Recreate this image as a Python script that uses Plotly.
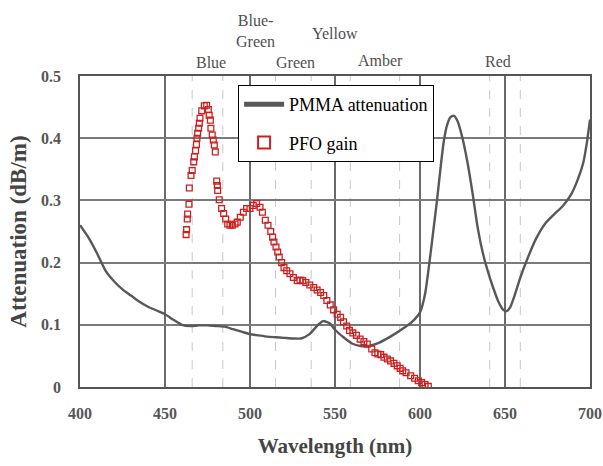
import plotly.graph_objects as go

# PMMA attenuation curve (wavelength nm, dB/m)
pmma_wl = [400, 405, 410, 415, 420, 425, 430, 435, 440, 445, 450, 455, 460, 465, 470, 475,
           480, 485, 490, 495, 500, 505, 510, 515, 520, 525, 530, 535, 540, 543, 547, 550,
           555, 560, 565, 570, 575, 580, 585, 590, 595, 600, 603, 606, 608, 610, 612, 614,
           616, 618, 620, 622, 625, 628, 631, 634, 637, 640, 643, 646, 649, 651, 653, 656,
           659, 663, 668, 674, 679, 684, 689, 693, 696, 698, 700]
pmma_att = [0.260, 0.240, 0.215, 0.187, 0.170, 0.157, 0.147, 0.137, 0.129, 0.123, 0.117, 0.108,
            0.100, 0.098, 0.099, 0.099, 0.098, 0.097, 0.093, 0.089, 0.085, 0.083, 0.081, 0.080,
            0.079, 0.078, 0.078, 0.085, 0.100, 0.106, 0.102, 0.092, 0.080, 0.070, 0.066, 0.066,
            0.070, 0.077, 0.085, 0.094, 0.104, 0.120, 0.150, 0.210, 0.255, 0.300, 0.350, 0.395,
            0.422, 0.434, 0.436, 0.428, 0.400, 0.360, 0.310, 0.255, 0.215, 0.185, 0.160, 0.138,
            0.124, 0.122, 0.128, 0.150, 0.176, 0.205, 0.237, 0.264, 0.278, 0.291, 0.310, 0.335,
            0.360, 0.390, 0.430]

# PFO gain points (wavelength nm, value)
pfo_wl = [462.4, 462.7, 463.1, 463.3, 464.1, 464.3, 465.3, 466.0, 466.9, 467.3, 468.0, 468.5,
          468.8, 469.2, 469.8, 470.2, 470.6, 471.6, 473.1, 474.5, 475.5, 476.0, 476.7, 477.0,
          477.8, 478.4, 479.0, 479.6, 480.4, 480.8, 481.0, 481.9, 483.3, 484.5, 485.7, 486.9,
          488.2, 489.6, 491.2, 492.5, 494.3, 496.1, 498.0, 500.0, 501.9, 503.9, 505.9, 507.3,
          509.0, 510.6, 512.2, 513.3, 514.1, 515.3, 516.3, 517.2, 518.6, 520.0, 521.6, 523.5,
          525.5, 527.8, 529.4, 531.0, 532.9, 535.2, 537.5, 539.5, 541.5, 543.4, 545.2, 547.2,
          549.2, 551.3, 553.3, 555.0, 556.9, 558.5, 560.5, 562.6, 564.8, 567.0, 569.0, 571.6,
          573.5, 575.2, 576.9, 578.8, 580.8, 582.7, 584.7, 586.6, 588.3, 589.8, 591.8, 594.5,
          596.8, 599.0, 601.0, 603.0, 604.9]
pfo_gain = [0.245, 0.253, 0.270, 0.278, 0.294, 0.320, 0.340, 0.348, 0.362, 0.370, 0.380, 0.390,
            0.400, 0.408, 0.416, 0.424, 0.432, 0.444, 0.452, 0.453, 0.446, 0.437, 0.429, 0.416,
            0.405, 0.397, 0.389, 0.378, 0.331, 0.324, 0.316, 0.301, 0.287, 0.279, 0.270, 0.262,
            0.260, 0.260, 0.262, 0.265, 0.273, 0.281, 0.287, 0.287, 0.292, 0.295, 0.289, 0.281,
            0.268, 0.260, 0.250, 0.241, 0.233, 0.225, 0.217, 0.209, 0.200, 0.192, 0.187, 0.182,
            0.176, 0.171, 0.172, 0.171, 0.168, 0.164, 0.160, 0.156, 0.152, 0.147, 0.139, 0.132,
            0.124, 0.117, 0.112, 0.105, 0.098, 0.091, 0.087, 0.083, 0.077, 0.073, 0.069, 0.061,
            0.055, 0.053, 0.052, 0.048, 0.045, 0.042, 0.038, 0.034, 0.030, 0.026, 0.023, 0.018,
            0.014, 0.010, 0.007, 0.004, 0.001]

# Axis ticks
x_ticks = [400, 450, 500, 550, 600, 650, 700]
y_ticks = [0, 0.1, 0.2, 0.3, 0.4, 0.5]
y_tick_labels = ["0", "0.1", "0.2", "0.3", "0.4", "0.5"]

# Colour band labels above the plot
band_labels = ["Blue", "Blue-<br>Green", "Green", "Yellow", "Amber", "Red"]
band_label_wl = [477, 503.5, 526.5, 550, 576.5, 646]
band_label_y = [1.045, 1.145, 1.042, 1.138, 1.051, 1.048]

# Faint dashed band-marker lines (nm)
band_lines_wl = [466, 484, 515, 536, 559, 588, 641, 659]

SERIF = "Liberation Serif"

fig = go.Figure()

fig.add_trace(go.Scatter(
    x=pmma_wl, y=pmma_att, mode="lines", name="PMMA attenuation",
    line=dict(color="#585858", width=2.4, shape="spline", smoothing=0.6),
    legendgroup="a",
))
fig.add_trace(go.Scatter(
    x=pfo_wl, y=pfo_gain, mode="markers", name="PFO gain",
    marker=dict(symbol="square-open", size=5.8, color="#cc2020", line=dict(width=1.3, color="#cc2020")),
    legendgroup="b",
))

shapes = []
for wl in band_lines_wl:
    shapes.append(dict(type="line", xref="x", yref="y", x0=wl, x1=wl, y0=0, y1=0.5,
                       line=dict(color="#c8c8c8", width=1, dash="dash"), layer="below"))

annotations = []
for txt, wl, yy in zip(band_labels, band_label_wl, band_label_y):
    annotations.append(dict(text=txt, x=wl, y=yy, xref="x", yref="paper", showarrow=False,
                            xanchor="center", yanchor="middle",
                            font=dict(family=SERIF, size=16, color="#505050")))

fig.update_layout(
    width=603, height=466,
    margin=dict(l=80, r=13, t=76, b=79, autoexpand=False),
    paper_bgcolor="white", plot_bgcolor="white",
    showlegend=True,
    legend=dict(x=0.31, y=0.971, xanchor="left", yanchor="top",
                bgcolor="white", bordercolor="black", borderwidth=1,
                font=dict(family=SERIF, size=18, color="black"),
                itemsizing="constant", itemwidth=40, tracegroupgap=12, traceorder="grouped"),
    shapes=shapes,
    annotations=annotations,
    xaxis=dict(
        range=[400, 700], tickvals=x_ticks, ticks="", showgrid=True, automargin=False,
        gridcolor="#6a6a6a", gridwidth=1.5, zeroline=False,
        showline=True, linecolor="#555555", linewidth=1.5, mirror=True,
        tickfont=dict(family=SERIF, size=16, color="#555555", weight="bold"),
        ticklabelstandoff=11,
        title=dict(text="Wavelength (nm)", standoff=17,
                   font=dict(family=SERIF, size=21, color="#444444", weight="bold")),
    ),
    yaxis=dict(
        range=[0, 0.5], tickvals=y_ticks, ticktext=y_tick_labels, ticks="", showgrid=True,
        automargin=False,
        gridcolor="#7a7a7a", gridwidth=1.5, zeroline=False,
        showline=True, linecolor="#555555", linewidth=1.5, mirror=True,
        tickfont=dict(family=SERIF, size=16, color="#555555", weight="bold"),
        ticklabelstandoff=14,
        title=dict(text="Attenuation (dB/m)", standoff=8,
                   font=dict(family=SERIF, size=23, color="#444444", weight="bold")),
    ),
)

fig.write_html(
    "out.html",
    config={"displayModeBar": False},
    post_script="document.body.style.margin='0';document.body.style.overflow='hidden';",
)
